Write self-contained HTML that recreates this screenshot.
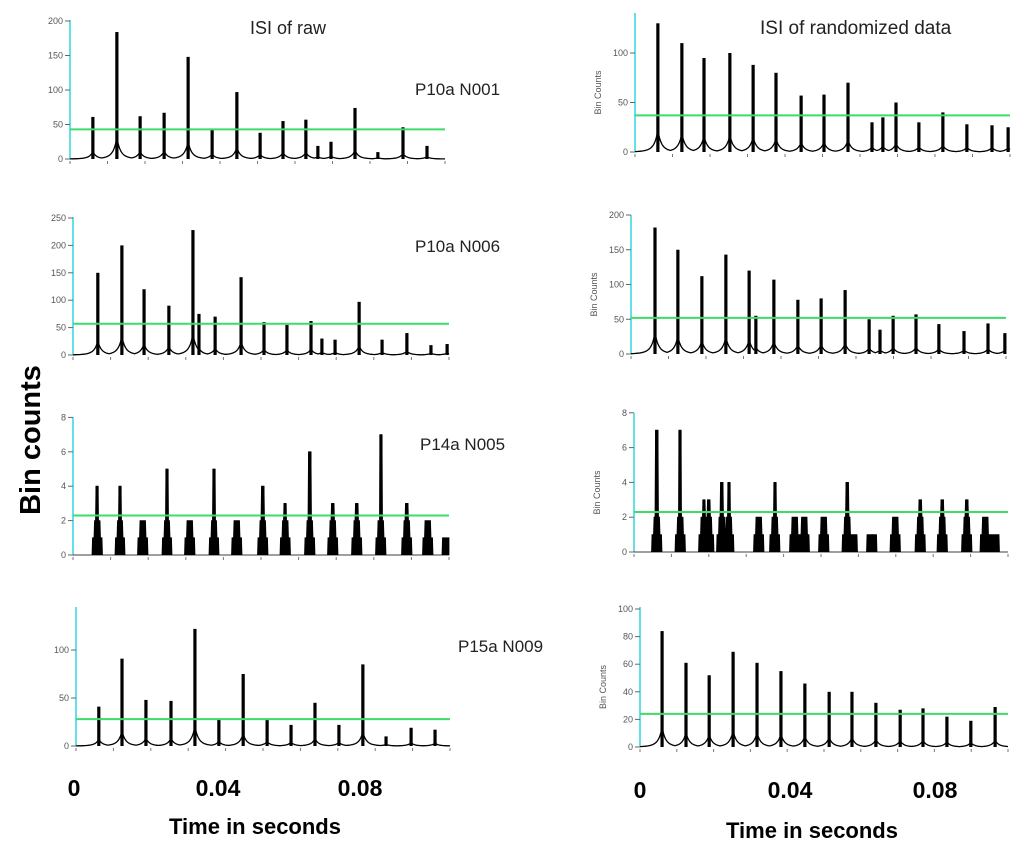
<!DOCTYPE html>
<html><head><meta charset="utf-8"><style>
html,body{margin:0;padding:0;background:#fff;}
svg{display:block;}
text{font-family:"Liberation Sans",sans-serif;}
</style></head><body>
<svg id="fig" width="1024" height="853" viewBox="0 0 1024 853">
<text x="250" y="34" font-size="18" fill="#222">ISI of raw</text>
<text x="760" y="34" font-size="19" fill="#222">ISI of randomized data</text>
<text x="415" y="95" font-size="17" fill="#222">P10a N001</text>
<text x="415" y="252" font-size="17" fill="#222">P10a N006</text>
<text x="420" y="450" font-size="17" fill="#222">P14a N005</text>
<text x="458" y="652" font-size="17" fill="#222">P15a N009</text>
<text transform="translate(40,440) rotate(-90)" text-anchor="middle" font-size="29" font-weight="bold" fill="#000">Bin counts</text>
<text x="74" y="796" text-anchor="middle" font-size="23" font-weight="bold">0</text>
<text x="218" y="796" text-anchor="middle" font-size="23" font-weight="bold">0.04</text>
<text x="360" y="796" text-anchor="middle" font-size="23" font-weight="bold">0.08</text>
<text x="255" y="834" text-anchor="middle" font-size="22" font-weight="bold">Time in seconds</text>
<text x="640" y="798" text-anchor="middle" font-size="23" font-weight="bold">0</text>
<text x="790" y="798" text-anchor="middle" font-size="23" font-weight="bold">0.04</text>
<text x="935" y="798" text-anchor="middle" font-size="23" font-weight="bold">0.08</text>
<text x="812" y="838" text-anchor="middle" font-size="22" font-weight="bold">Time in seconds</text>
</svg>
<script>
// peak times (ms) and peak heights (bin counts) per panel
const p1Times=[6.1,12.5,18.7,25.1,31.5,37.9,44.5,50.7,56.8,62.9,66.1,69.6,76.0,82.1,88.8,95.2];
const p1Heights=[61,184,62,67,148,42,97,38,55,57,19,25,74,10,46,19];
const p1Threshold=43;
const p2Times=[6.6,13.0,18.9,25.5,31.9,33.5,37.8,44.7,50.8,56.9,63.3,66.2,69.7,76.1,82.2,88.8,95.2,99.5];
const p2Heights=[150,200,120,90,228,75,70,142,60,55,62,30,28,97,28,40,18,20];
const p2Threshold=57;
const p3Times=[6.4,12.5,18.6,25.0,31.1,37.5,43.6,50.5,56.4,63.0,69.1,75.5,81.9,88.8,94.4,99.5];
const p3Heights=[4,4,2,5,2,5,2,4,3,6,3,3,7,3,2,1];
const p3Threshold=2.3;
const p4Times=[6.1,12.3,18.7,25.4,31.8,38.2,44.7,51.1,57.5,63.9,70.3,76.7,82.9,89.6,96.0];
const p4Heights=[41,91,48,47,122,28,75,27,22,45,22,85,10,19,17];
const p4Threshold=28;
const r1Times=[6.1,12.5,18.4,25.3,31.5,37.6,44.3,50.4,56.8,63.2,66.1,69.6,75.7,82.1,88.5,95.2,99.5];
const r1Heights=[130,110,95,100,88,80,57,58,70,30,35,50,30,40,28,27,25];
const r1Threshold=37;
const r2Times=[6.4,12.5,18.9,25.3,31.5,33.3,38.1,44.5,50.7,57.1,63.5,66.4,69.9,76.0,82.1,88.8,95.2,99.7];
const r2Heights=[182,150,112,143,120,55,107,78,80,92,50,35,55,57,43,33,44,30];
const r2Threshold=52;
const r3Times=[6.1,12.3,18.7,20.0,23.5,25.4,33.4,37.7,43.0,45.5,50.8,57.0,58.3,63.6,69.8,76.5,82.4,89.0,93.9,96.3];
const r3Heights=[7,7,3,3,4,4,2,4,2,2,2,4,1,1,2,3,3,3,2,1];
const r3Threshold=2.3;
const r4Times=[6.0,12.5,18.8,25.3,31.8,38.3,44.8,51.4,57.6,64.1,70.7,76.9,83.4,89.9,96.5];
const r4Heights=[84,61,52,69,61,55,46,40,40,32,27,28,22,19,29];
const r4Threshold=24;
const p1Ticks=[0,50,100,150,200], p2Ticks=[0,50,100,150,200,250], p3Ticks=[0,2,4,6,8],
      p4Ticks=[0,50,100], r1Ticks=[0,50,100], r2Ticks=[0,50,100,150,200], r3Ticks=[0,2,4,6,8], r4Ticks=[0,20,40,60,80,100];

const svg=document.getElementById('fig');
const NS='http://www.w3.org/2000/svg';
function mk(tag,attrs){const e=document.createElementNS(NS,tag);for(const k in attrs)e.setAttribute(k,attrs[k]);svg.appendChild(e);return e;}

function panel(id,times,heights,thr,ticks,x0,x1,base,ppu,top,counts,ylab){
  const X=t=>x0+(t/100)*(x1-x0);
  const Y=v=>base-v*ppu;
  const ax=mk('line',{x1:x0,y1:base,x2:x0,y2:top,stroke:'#33d6e0','stroke-width':1.5});
  
  
  ticks.forEach(v=>{
    const tl=mk('line',{x1:x0-5,y1:Y(v),x2:x0,y2:Y(v),stroke:'#666','stroke-width':1});
    
    
    const tt=mk('text',{x:x0-7,y:Y(v)+3,'text-anchor':'end','font-size':9,fill:'#555'});
    tt.textContent=v;
    
    
  });
  for(let i=0;i<=10;i++){
    const xt=mk('line',{x1:X(i*10),y1:base+2,x2:X(i*10),y2:base+5,stroke:'#777','stroke-width':1});
    
    
  }
  let pts=[];
  for(let px=x0;px<=x1;px+=0.5){
    let v=0;
    times.forEach((t,i)=>{
      const d=Math.abs(px-X(t)), h=heights[i];
      if(counts){
        let hv=0;
        if(d<1.4) hv=h; else if(d<3) hv=Math.min(2,h); else if(d<5) hv=Math.min(1,h);
        v=Math.max(v,hv);
      } else {
        const hill=h*0.12*Math.exp(-d/3)+h*0.05*Math.exp(-d/8);
        v=Math.max(v,hill);
      }
    });
    pts.push([px,Y(v)]);
  }
  let d='M'+pts.map(p=>p[0].toFixed(1)+','+p[1].toFixed(1)).join('L');
  if(counts) d+='L'+x1+','+base+'L'+x0+','+base+'Z';
  const tr=mk('path',{d:d,fill:counts?'#000':'none',stroke:'#000','stroke-width':counts?0.8:1.3});
  
  
  times.forEach((t,i)=>{
    const b=mk('rect',{x:X(t)-1.6,y:Y(heights[i]),width:3.2,height:heights[i]*ppu,fill:'#000'});
    
    
  });
  const g=mk('line',{x1:x0,y1:Y(thr),x2:x1,y2:Y(thr),stroke:'#3ddc6a','stroke-width':2});
  
  
  if(ylab){
    const yl=mk('text',{transform:'translate('+(x0-34)+','+((base+top)/2+10)+') rotate(-90)','text-anchor':'middle','font-size':9,fill:'#555'});
    yl.textContent='Bin Counts';
    
    
  }
}
panel('p10a-n001-raw',p1Times,p1Heights,p1Threshold,p1Ticks,70,445,159,0.69,20,false,false);
panel('p10a-n006-raw',p2Times,p2Heights,p2Threshold,p2Ticks,73,449,355,0.548,217,false,false);
panel('p14a-n005-raw',p3Times,p3Heights,p3Threshold,p3Ticks,73,449,555,17.2,417,true,false);
panel('p15a-n009-raw',p4Times,p4Heights,p4Threshold,p4Ticks,76,450,746,0.96,607,false,false);
panel('p10a-n001-rand',r1Times,r1Heights,r1Threshold,r1Ticks,635,1010,152,0.99,13,false,true);
panel('p10a-n006-rand',r2Times,r2Heights,r2Threshold,r2Ticks,631,1006,354,0.695,215,false,true);
panel('p14a-n005-rand',r3Times,r3Heights,r3Threshold,r3Ticks,634,1008,552,17.4,413,true,true);
panel('p15a-n009-rand',r4Times,r4Heights,r4Threshold,r4Ticks,640,1008,747,1.38,607,false,true);
</script>
</body></html>
